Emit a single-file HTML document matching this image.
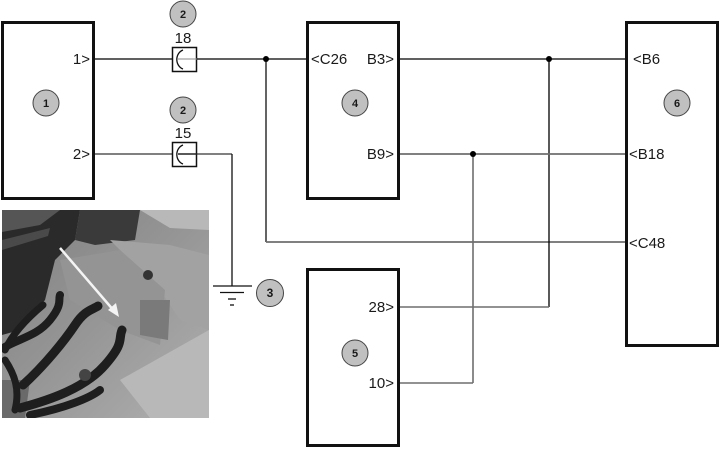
<!DOCTYPE html>
<html><head><meta charset="utf-8"><style>
html,body{margin:0;padding:0;background:#fff;}
svg{display:block;}
text{font-family:"Liberation Sans",Arial,sans-serif;fill:#1a1a1a;}
.lbl{font-size:15px;}
.num{font-size:11px;font-weight:bold;text-anchor:middle;}
</style></head><body>
<svg width="720" height="449" viewBox="0 0 720 449" xmlns="http://www.w3.org/2000/svg">
<defs>
<clipPath id="pc"><rect x="2" y="210" width="207" height="208"/></clipPath>
<linearGradient id="pg" x1="0" y1="0" x2="1" y2="1">
<stop offset="0" stop-color="#808080"/><stop offset="0.5" stop-color="#969696"/><stop offset="1" stop-color="#b0b0b0"/>
</linearGradient>
</defs>
<g clip-path="url(#pc)">
<rect x="2" y="210" width="207" height="208" fill="url(#pg)"/>
<polygon points="2,210 80,210 75,240 55,260 45,300 20,330 2,335" fill="#2a2a2a"/>
<polygon points="2,210 60,210 40,225 2,232" fill="#555"/>
<polygon points="2,240 50,228 48,236 2,250" fill="#4a4a4a"/>
<polygon points="80,210 140,210 135,240 95,245 75,240" fill="#3a3a3a"/>
<polygon points="140,210 209,210 209,230 170,228" fill="#b8b8b8"/>
<polygon points="110,240 170,245 209,255 209,330 180,320 160,290" fill="#a2a2a2"/>
<polygon points="120,380 209,330 209,418 150,418" fill="#b8b8b8"/>
<polygon points="60,260 120,250 165,290 160,345 120,330 70,300" fill="#949494"/>
<polygon points="140,300 170,300 168,340 140,335" fill="#7a7a7a"/>
<polygon points="2,380 30,380 25,418 2,418" fill="#6a6a6a"/>
<g fill="none" stroke="#1e1e1e" stroke-linecap="round">
<path d="M3,348 C20,338 37,336 50,320 S58,300 60,295" stroke-width="8"/>
<path d="M23,385 C45,365 65,340 75,325 S92,310 98,306" stroke-width="9"/>
<path d="M20,408 C50,400 85,388 105,365 S118,340 122,330" stroke-width="9"/>
<path d="M30,415 C65,408 90,398 100,390" stroke-width="8"/>
<path d="M43,305 C25,320 12,335 5,350" stroke-width="7"/>
<path d="M5,360 C15,375 20,390 15,410" stroke-width="7"/>
</g>
<circle cx="148" cy="275" r="5" fill="#333"/>
<circle cx="85" cy="375" r="6" fill="#444"/>
<line x1="60" y1="248" x2="115" y2="312" stroke="#f4f4f4" stroke-width="2.5"/>
<polygon points="119,317 108,310 116,303" fill="#f4f4f4"/>
</g>
<g fill="none" stroke="#111" stroke-width="3">
<rect x="2.5" y="22.5" width="91" height="176"/>
<rect x="307.5" y="22.5" width="91" height="176"/>
<rect x="626.5" y="22.5" width="91" height="323"/>
<rect x="307.5" y="269.5" width="91" height="176"/>
</g>
<g fill="none" stroke-width="1.3">
<line x1="95" y1="59" x2="172" y2="59" stroke="#000"/>
<line x1="197" y1="59" x2="306" y2="59" stroke="#000"/>
<line x1="266" y1="59" x2="266" y2="242" stroke="#111"/>
<line x1="266" y1="242" x2="625" y2="242" stroke="#6e6e6e" stroke-width="1.8"/>
<line x1="400" y1="59" x2="625" y2="59" stroke="#000"/>
<line x1="549" y1="59" x2="549" y2="307" stroke="#000"/>
<line x1="400" y1="307" x2="549" y2="307" stroke="#6e6e6e" stroke-width="1.5"/>
<line x1="400" y1="154" x2="625" y2="154" stroke="#6e6e6e" stroke-width="1.8"/>
<line x1="473" y1="154" x2="473" y2="383" stroke="#6e6e6e" stroke-width="1.6"/>
<line x1="400" y1="383" x2="473" y2="383" stroke="#6e6e6e" stroke-width="1.5"/>
<line x1="95" y1="154" x2="172" y2="154" stroke="#6e6e6e" stroke-width="1.8"/>
<line x1="197" y1="154" x2="232" y2="154" stroke="#6e6e6e" stroke-width="1.8"/>
<line x1="232" y1="154" x2="232" y2="286" stroke="#111"/>
<line x1="213" y1="286" x2="252" y2="286" stroke="#111"/>
<line x1="220" y1="292.5" x2="244" y2="292.5" stroke="#111"/>
<line x1="228" y1="299" x2="236" y2="299" stroke="#111"/>
<line x1="230" y1="305" x2="234" y2="305" stroke="#111"/>
</g>
<g fill="none" stroke="#111">
<rect x="172.5" y="47.5" width="24" height="24" stroke-width="1.5"/>
<path d="M183,50 A9,10 0 0 0 183,69" stroke-width="1.3"/>
<line x1="178" y1="59" x2="197" y2="59" stroke="#888" stroke-width="1"/>
<rect x="172.5" y="142.5" width="24" height="24" stroke-width="1.5"/>
<path d="M183,145 A9,10 0 0 0 183,164" stroke-width="1.3"/>
<line x1="178" y1="154" x2="197" y2="154" stroke="#222" stroke-width="1.5"/>
</g>
<circle cx="266" cy="59" r="3" fill="#000"/>
<circle cx="549" cy="59" r="3" fill="#000"/>
<circle cx="473" cy="154" r="3" fill="#000"/>
<g fill="#c0c0c0" stroke="#444" stroke-width="1">
<circle cx="183" cy="14" r="13"/>
<circle cx="183" cy="110" r="13"/>
<circle cx="46" cy="103" r="13"/>
<circle cx="355" cy="103" r="13"/>
<circle cx="677" cy="103" r="13"/>
<circle cx="355" cy="353" r="13"/>
<circle cx="270" cy="293" r="13.5"/>
</g>
<text class="num" x="183" y="18">2</text>
<text class="num" x="183" y="114">2</text>
<text class="num" x="46" y="107">1</text>
<text class="num" x="355" y="107">4</text>
<text class="num" x="677" y="107">6</text>
<text class="num" x="355" y="357">5</text>
<text class="num" x="270" y="297" style="font-size:12px">3</text>
<text class="lbl" x="183" y="43" text-anchor="middle">18</text>
<text class="lbl" x="183" y="138" text-anchor="middle">15</text>
<text class="lbl" x="90" y="64" text-anchor="end">1&gt;</text>
<text class="lbl" x="90" y="159" text-anchor="end">2&gt;</text>
<text class="lbl" x="311" y="64">&lt;C26</text>
<text class="lbl" x="394" y="64" text-anchor="end">B3&gt;</text>
<text class="lbl" x="394" y="159" text-anchor="end">B9&gt;</text>
<text class="lbl" x="633" y="64">&lt;B6</text>
<text class="lbl" x="629" y="159">&lt;B18</text>
<text class="lbl" x="629" y="248">&lt;C48</text>
<text class="lbl" x="394" y="312" text-anchor="end">28&gt;</text>
<text class="lbl" x="394" y="388" text-anchor="end">10&gt;</text>
</svg>
</body></html>
